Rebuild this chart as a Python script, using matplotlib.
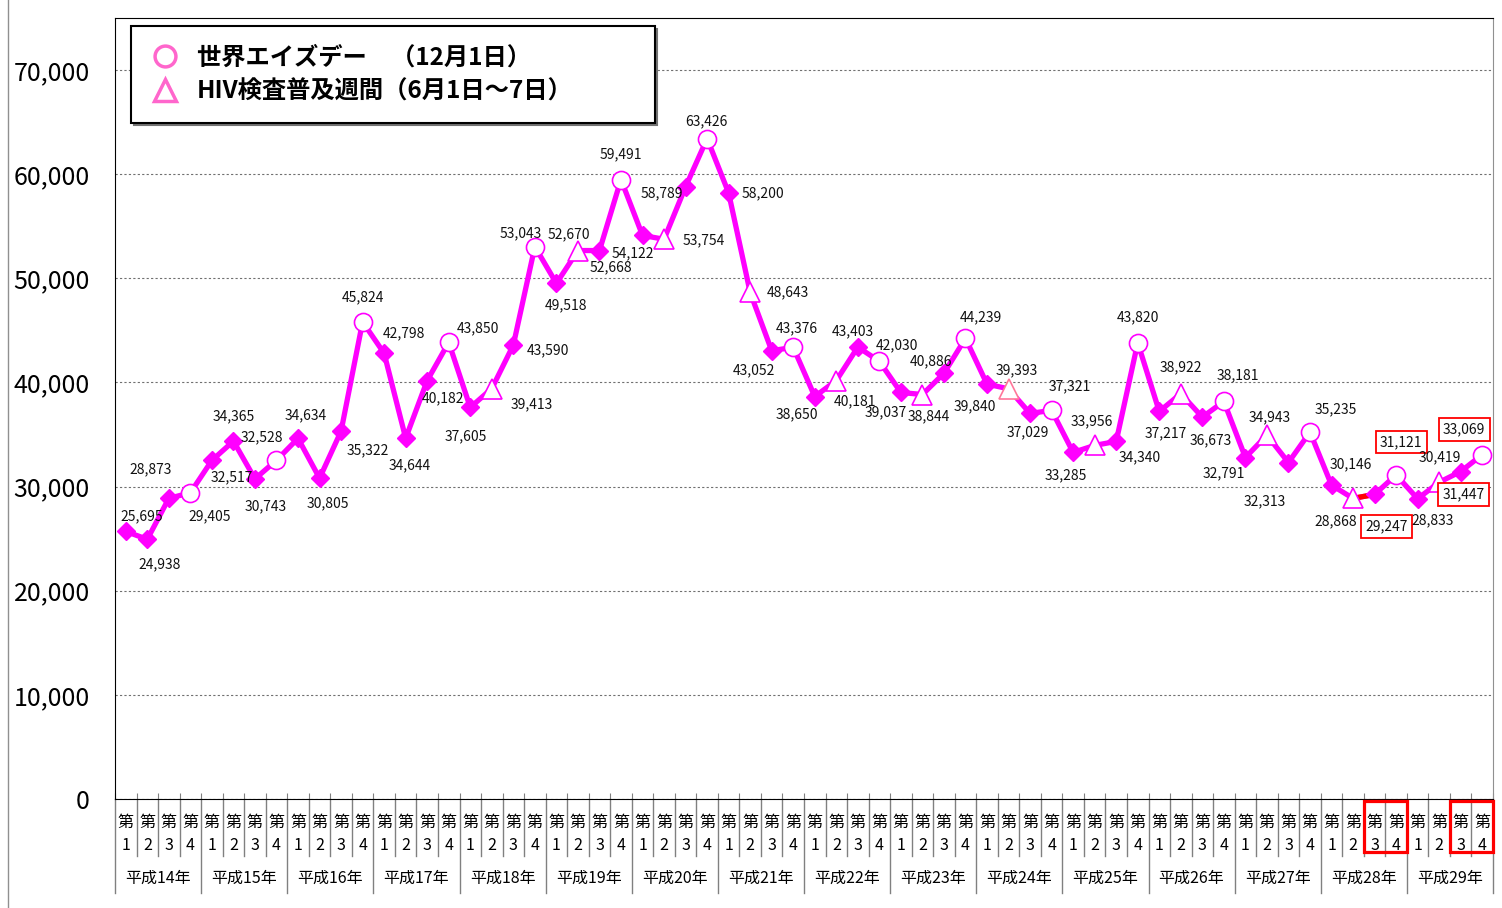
import matplotlib
matplotlib.use('Agg')
import matplotlib.pyplot as plt
import matplotlib.transforms as mtransforms
from matplotlib.lines import Line2D
from matplotlib.patches import Rectangle

plt.rcParams['font.family'] = ['Noto Sans CJK JP', 'DejaVu Sans']

########################################################################################################################
# data: HIV test counts per quarter, 平成14年 - 平成29年
years = ['平成14年', '平成15年', '平成16年', '平成17年', '平成18年', '平成19年', '平成20年', '平成21年',
         '平成22年', '平成23年', '平成24年', '平成25年', '平成26年', '平成27年', '平成28年', '平成29年']
quarters = ['1', '2', '3', '4']
counts = [25695, 24938, 28873, 29405,
          32517, 34365, 30743, 32528,
          34634, 30805, 35322, 45824,
          42798, 34644, 40182, 43850,
          37605, 39413, 43590, 53043,
          49518, 52670, 52668, 59491,
          54122, 53754, 58789, 63426,
          58200, 48643, 43052, 43376,
          38650, 40181, 43403, 42030,
          39037, 38844, 40886, 44239,
          39840, 39393, 37029, 37321,
          33285, 33956, 34340, 43820,
          37217, 38922, 36673, 38181,
          32791, 34943, 32313, 35235,
          30146, 28868, 29247, 31121,
          28833, 30419, 31447, 33069]
aids_day = list(range(3, 64, 4))     # 世界エイズデー (Q4)
hiv_week = list(range(17, 64, 4))    # HIV検査普及週間 (Q2, from 平成18年)
boxed = [58, 59, 62, 63]
legend_labels = ['世界エイズデー　（12月1日）', 'HIV検査普及週間（6月1日～7日）']

# label offsets in pixels (dx, dy) relative to the point
label_offsets = [(16, -15), (12, 25), (-18, -29), (19, 24), (20, 17), (0, -25), (11, 27), (-15, -23),
                 (8, -23), (8, 25), (27, 19), (0, -25), (20, -20), (4, 27), (16, 18), (29, -14),
                 (-4, 29), (40, 16), (35, 5), (-14, -13), (10, 22), (-9, -16), (11, 17), (0, -25),
                 (-10, 18), (40, 1), (-24, 6), (-1, -17), (34, 0), (38, 0), (-18, 20), (4, -19),
                 (-18, 18), (19, 21), (-5, -16), (18, -16), (-15, 20), (6, 22), (-13, -12), (15, -21),
                 (-12, 22), (8, -18), (-2, 19), (18, -24), (-7, 23), (-3, -24), (23, 16), (0, -25),
                 (6, 22), (0, -26), (8, 23), (14, -26), (-22, 16), (3, -18), (-24, 39), (26, -23),
                 (19, -21), (-17, 23), (12, 32), (5, -33), (15, 22), (1, -25), (3, 23), (-18, -25)]

MAGENTA = '#FF00FF'


def draw_series(ax):
    xs = list(range(len(counts)))
    ax.plot(xs, counts, color=MAGENTA, linewidth=3.8, zorder=2)
    ax.plot(xs[57:59], counts[57:59], color='red', linewidth=3.8, zorder=2.5)

    plain = [i for i in xs if i not in aids_day and i not in hiv_week]
    ax.plot(plain, [counts[i] for i in plain], 'D', ms=9, color=MAGENTA, zorder=3)
    ax.plot(aids_day, [counts[i] for i in aids_day], 'o', ms=13, mfc='white', mec=MAGENTA, mew=1.2, zorder=3)
    tri_col = [MAGENTA if i != 41 else '#FF7799' for i in hiv_week]
    for i, c in zip(hiv_week, tri_col):
        ax.plot(i, counts[i], '^', ms=14, mfc='white', mec=c, mew=1.2, zorder=3)

    for i, v in enumerate(counts):
        dx, dy = label_offsets[i]
        box = None
        if i in boxed:
            box = dict(boxstyle='square,pad=0.3', fc='white', ec='red', lw=1.3)
        ax.annotate(f'{v:,}', (i, v), xytext=(dx, -dy), textcoords='offset pixels',
                    ha='center', va='center', fontsize=10, color='#111111', bbox=box, zorder=4)


def draw_categories(ax):
    trans = mtransforms.blended_transform_factory(ax.transData, ax.transAxes)
    n = len(counts)
    for i in range(n):
        ax.text(i, -0.03, '第', transform=trans, ha='center', va='center', fontsize=11.5)
        ax.text(i, -0.06, quarters[i % 4], transform=trans, ha='center', va='center', fontsize=11.5)
    for k, y in enumerate(years):
        ax.text(4 * k + 1.5, -0.101, y, transform=trans, ha='center', va='center', fontsize=11.5)
    for k in range(n + 1):
        bottom = -0.12 if k % 4 == 0 else -0.073
        ax.add_line(Line2D([k - 0.5, k - 0.5], [0, bottom], transform=trans, color='#808080',
                           lw=1, clip_on=False))
    for start in (57.5, 61.5):
        ax.add_patch(Rectangle((start, -0.068), 2, 0.065, transform=trans, fill=False,
                               ec='red', lw=2.3, clip_on=False, zorder=5))


def make_legend(ax):
    handles = [Line2D([], [], marker='o', ls='none', mfc='white', mec='#FF66CC', mew=2.5, ms=15),
               Line2D([], [], marker='^', ls='none', mfc='white', mec='#FF66CC', mew=2.5, ms=16)]
    leg = ax.legend(handles, legend_labels, loc='upper left',
                    bbox_to_anchor=(0.0116, 0.9898 - 0.2, 0.380, 0.2), mode='expand',
                    borderaxespad=0, fancybox=False, shadow={'color': '0.45', 'alpha': 1},
                    framealpha=1, edgecolor='black', handlelength=1.2, handletextpad=0.7,
                    borderpad=0.8, labelspacing=0.4, prop={'size': 17.5, 'weight': 'bold'})
    leg.get_frame().set_linewidth(1.5)


def plot():
    fig = plt.figure(figsize=(15.02, 9.08), dpi=100)
    ax = fig.add_axes([115 / 1502, 1 - 799 / 908, (1493 - 115) / 1502, (799 - 18) / 908])
    ax.set_xlim(-0.5, len(counts) - 0.5)
    ax.set_ylim(0, 75000)
    ax.set_yticks(range(0, 70001, 10000))
    ax.set_yticklabels([f'{v:,}' for v in range(0, 70001, 10000)], fontsize=18)
    ax.set_xticks([k - 0.5 for k in range(len(counts) + 1)])
    ax.tick_params(axis='x', direction='in', length=4, color='#808080', labelbottom=False)
    ax.tick_params(axis='y', length=0, pad=18)
    ax.yaxis.grid(True, linestyle=(0, (2, 2)), color='#707070', linewidth=0.8)
    ax.set_axisbelow(True)
    for s in ('left', 'bottom', 'top'):
        ax.spines[s].set_color('black')
    ax.spines['right'].set_color('#909090')

    draw_series(ax)
    draw_categories(ax)
    make_legend(ax)

    fig.add_artist(Line2D([8 / 1502, 8 / 1502], [0, 1], color='#909090', lw=1))
    fig.savefig('out.png', dpi=100)


if __name__ == '__main__':
    plot()
